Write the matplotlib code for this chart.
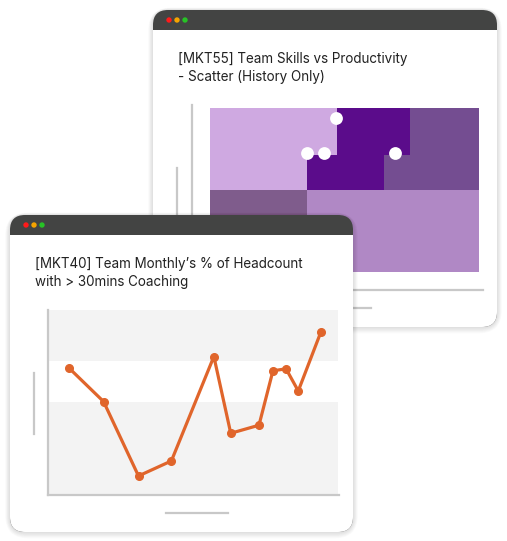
import matplotlib.pyplot as plt
import numpy as np
from matplotlib.patches import FancyBboxPatch, Rectangle, Circle
from matplotlib.colors import ListedColormap
from matplotlib.lines import Line2D

# =============================
# DATA
# =============================
# back card: skills vs productivity heatmap + history scatter
heat_x_edges = [1.0, 4.07, 5.0, 6.5, 7.33, 9.5]
heat_y_edges = [1.0, 3.5, 4.57, 6.0]
# cell category per row (bottom row first)
heat_cells = [
    [3, 4, 4, 4, 4],
    [0, 1, 1, 2, 2],
    [0, 0, 1, 1, 2],
]
heat_colors = ['#cfa9e1', '#5b0c8b', '#744d91', '#7f5c8c', '#b088c5']

scatter_x = [4.99, 4.07, 4.61, 6.85]
scatter_y = [5.70, 4.63, 4.63, 4.63]

# front card: monthly % of headcount with > 30mins coaching
month_x = [7.3, 19.1, 31.1, 42.4, 57.0, 62.8, 72.5, 77.3, 81.8, 86.0, 93.8]
coach_pct = [69.2, 51.0, 10.4, 18.6, 75.6, 33.7, 38.1, 67.8, 68.9, 56.8, 89.1]
bands = [(0, 51), (73, 101)]

title_back = "[MKT55] Team Skills vs Productivity\n- Scatter (History Only)"
title_front = "[MKT40] Team Monthly\u2019s % of Headcount\nwith > 30mins Coaching"

# =============================
# LAYOUT (pixels)
# =============================
W, H = 507, 541
plt.rcParams['font.family'] = ['Inter', 'DejaVu Sans']

fig = plt.figure(figsize=(W / 100, H / 100), dpi=100)
fig.patch.set_facecolor('white')

HEADER = '#434443'
AXIS_GREY = '#c8c8c8'


def px_axes(x0, y0, x1, y1, z):
    return fig.add_axes([x0 / W, 1 - y1 / H, (x1 - x0) / W, (y1 - y0) / H], zorder=z)


def layer(z):
    ax = fig.add_axes([0, 0, 1, 1], zorder=z)
    ax.set_xlim(0, W)
    ax.set_ylim(H, 0)
    ax.axis('off')
    ax.patch.set_alpha(0)
    return ax


def draw_card(ax, x0, y0, w, h, title, r=15):
    # soft shadow
    for k in range(8, 0, -1):
        ax.add_patch(FancyBboxPatch((x0 - k * 0.6, y0 - k * 0.3), w + k * 1.2, h + k * 1.1,
                                    boxstyle=f"round,pad=0,rounding_size={r + k}",
                                    fc='#000000', ec='none', alpha=0.014))
    hb = y0 + 20
    ax.add_patch(FancyBboxPatch((x0, y0), w, h, boxstyle=f"round,pad=0,rounding_size={r}",
                                fc=HEADER, ec='none'))
    ax.add_patch(FancyBboxPatch((x0, hb), w, h - 20, boxstyle=f"round,pad=0,rounding_size={r}",
                                fc='white', ec='none'))
    ax.add_patch(Rectangle((x0, hb), w, r + 2, fc='white', ec='none'))
    for i, c in enumerate(['#ff1a1a', '#f5a300', '#27c226']):
        ax.add_patch(Circle((x0 + 16 + 8 * i, y0 + 10), 2.7, fc=c, ec='none'))
    ax.text(x0 + 25, y0 + 58, title, fontsize=9.7, color='#222222', va='center',
            ha='left', linespacing=1.42)
    # placeholder axis-label bars
    ax.add_line(Line2D([x0 + 24, x0 + 24], [y0 + 158, y0 + 219], color=AXIS_GREY, lw=1.6))
    ax.add_line(Line2D([x0 + 156, x0 + 218], [y0 + 298, y0 + 298], color=AXIS_GREY, lw=1.6))


def style_axes(ax):
    ax.patch.set_alpha(0)
    for s in ['top', 'right']:
        ax.spines[s].set_visible(False)
    for s in ['left', 'bottom']:
        ax.spines[s].set_color(AXIS_GREY)
        ax.spines[s].set_linewidth(1.6)
    ax.set_xticks([])
    ax.set_yticks([])


# back card
back = layer(0)
draw_card(back, 153, 10, 344, 317, title_back)

ax_heat = px_axes(192, 105, 483, 290, 1)
style_axes(ax_heat)
ax_heat.pcolormesh(heat_x_edges, heat_y_edges, np.array(heat_cells),
                   cmap=ListedColormap(heat_colors), vmin=-0.5, vmax=4.5)
ax_heat.scatter(scatter_x, scatter_y, s=85, color='white', zorder=3, lw=0)
ax_heat.set_xlim(0.43, 9.63)
ax_heat.set_ylim(0.45, 6.09)

# front card
front = layer(2)
draw_card(front, 10, 215, 343, 317, title_front)

ax_line = px_axes(48, 310, 339, 495, 3)
style_axes(ax_line)
for lo, hi in bands:
    ax_line.axhspan(lo, hi, xmax=0.997, color='#f3f3f3', lw=0, zorder=0)
ax_line.plot(month_x, coach_pct, color='#e0652b', lw=2.3, marker='o', ms=5.5, zorder=3)
ax_line.set_xlim(0, 100)
ax_line.set_ylim(0, 101)

fig.savefig('out.png', dpi=100)
